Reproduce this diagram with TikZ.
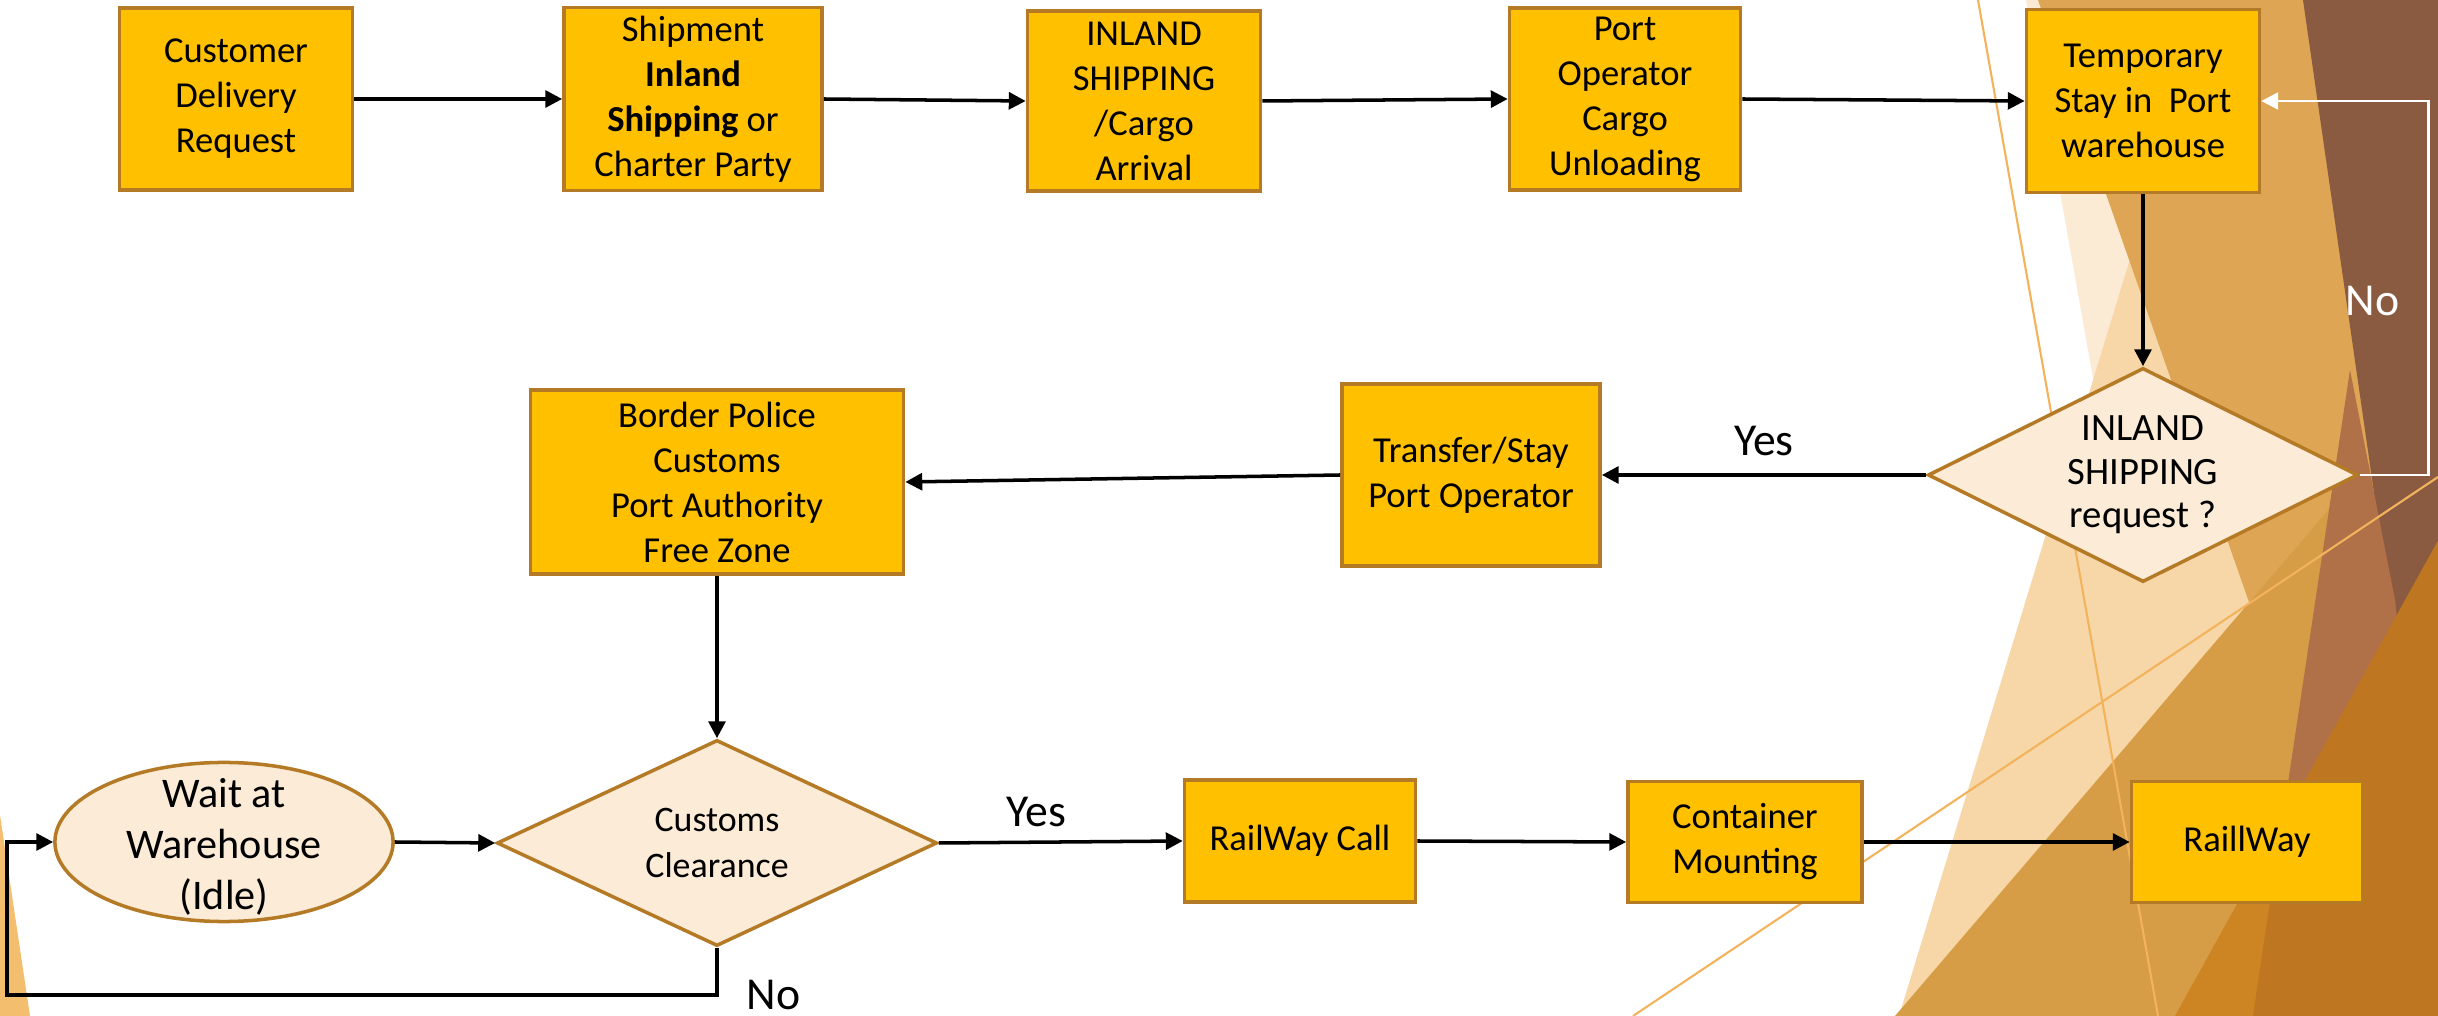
\documentclass[tikz,border=0pt]{standalone}
\usepackage{fontspec}
\setmainfont{Carlito}
\usepackage{tikz}
\usetikzlibrary{shapes}
\usetikzlibrary{shapes.geometric}
\usetikzlibrary{calc}
\usetikzlibrary{positioning, arrows.meta}

\definecolor{gold}{HTML}{FFC000}
\definecolor{rim}{HTML}{B47A26}
\definecolor{cream}{HTML}{FBEBD7}
\definecolor{palecream}{HTML}{FBEAD4}
\definecolor{peach}{HTML}{F7D7A8}
\definecolor{tan}{HTML}{DEA654}
\definecolor{darktan}{HTML}{D69D46}
\definecolor{facetbrown}{HTML}{8B5B41}
\definecolor{rust}{HTML}{B07048}
\definecolor{amber}{HTML}{CC8522}
\definecolor{darkamber}{HTML}{BE7620}
\definecolor{streak}{HTML}{F3B35C}
\definecolor{sliver}{HTML}{F3BE6E}

\begin{document}
\begin{tikzpicture}[x=0.01cm, y=-0.01cm,
    box/.style={rectangle, draw=rim, fill=gold, line width=1pt, inner sep=0pt, align=center, font=\fontsize{10.4}{12.8}\selectfont},
    decision/.style={diamond, aspect=2, draw=rim, fill=cream, line width=1pt, inner sep=0pt, align=center},
    idle/.style={ellipse, draw=rim, fill=cream, line width=1pt, inner sep=0pt},
    flow/.style={line width=1pt, -{Triangle[length=4.8pt, width=4.8pt]}},
    answer/.style={font=\fontsize{13}{15.6}\selectfont, inner sep=2pt}]

                    \useasboundingbox (0,0) rectangle (2438,1016);
                    \clip (0,0) rectangle (2438,1016);
                    \fill[white] (0,0) rectangle (2438,1016);

                    % Background shards
                    \fill[palecream] (2026,0) -- (2438,0) -- (2438,1016) -- (2206,1016) -- cycle;
                    \fill[peach] (1899,1016) -- (2209,0) -- (2438,0) -- (2438,1016) -- cycle;
                    \fill[tan] (2038,0) -- (2438,0) -- (2438,1016) -- (2394,1016) -- cycle;
                    \fill[darktan] (1895,1016) -- (2438,382) -- (2438,1016) -- cycle;
                    \fill[facetbrown] (2303,0) -- (2438,0) -- (2438,937) -- cycle;
                    \fill[rust] (2350,370) -- (2395,600) -- (2438,1016) -- (2253,1016) -- cycle;
                    \fill[amber] (2175,1016) -- (2438,541) -- (2438,1016) -- cycle;
                    \fill[darkamber] (2253,1016) -- (2282,822) -- (2438,541) -- (2438,1016) -- cycle;
                    \fill[sliver] (0,815) -- (30,1016) -- (0,1016) -- cycle;
                    \draw[streak, line width=0.6pt] (1978,0) -- (2158,1016);
                    \draw[streak, line width=0.6pt] (1633,1016) -- (2438,477);

                    % Nodes
                    \node[box, minimum width=2.33cm, minimum height=1.82cm] (cust) at (236,99) {Customer\\Delivery\\Request};
                    \node[box, minimum width=2.58cm, minimum height=1.83cm] (ship) at (693,99) {Shipment\\{\bfseries Inland}\\{\bfseries Shipping} or\\Charter Party};
                    \node[box, minimum width=2.33cm, minimum height=1.80cm] (arrive) at (1144,101) {INLAND\\SHIPPING\\/Cargo\\Arrival};
                    \node[box, minimum width=2.31cm, minimum height=1.82cm] (unload) at (1625,99) {Port\\Operator\\Cargo\\Unloading};
                    \node[box, minimum width=2.33cm, minimum height=1.83cm] (stay) at (2143,101) {Temporary\\Stay in\ \ Port\\warehouse};
                    \node[decision, minimum width=4.30cm, minimum height=2.14cm, font=\fontsize{11}{12.4}\selectfont] (inland) at (2143,475) {INLAND\\SHIPPING\\request ?};
                    \node[box, minimum width=2.58cm, minimum height=1.82cm] (transfer) at (1471,475) {Transfer/Stay\\Port Operator};
                    \node[box, minimum width=3.73cm, minimum height=1.84cm] (border) at (717,482) {Border Police\\Customs\\Port Authority\\Free Zone};
                    \node[decision, minimum width=4.40cm, minimum height=2.06cm, font=\fontsize{10.2}{12.8}\selectfont] (clear) at (717,843) {Customs\\Clearance};
                    \node[idle, minimum width=3.38cm, minimum height=1.59cm,
                          label={[name=waittext, align=center, yshift=-0.05cm, font=\fontsize{12}{14.5}\selectfont]center:{Wait at\\Warehouse\\(Idle)}}] (wait) at (224,842) {};
                    \node[box, minimum width=2.31cm, minimum height=1.22cm] (call) at (1300,841) {RailWay Call};
                    \node[box, minimum width=2.34cm, minimum height=1.21cm] (mount) at (1745,842) {Container\\Mounting};
                    \node[box, minimum width=2.31cm, minimum height=1.21cm] (rail) at (2247,842) {RaillWay};

                    \coordinate (loopx) at (7,995);

                    % Edges
                    % request to shipment
                    \draw[flow] (cust.east) -- (ship.west);
                    % shipment to arrival
                    \draw[flow] (ship.east) -- (arrive.west);
                    % arrival to unloading
                    \draw[flow] (arrive.east) -- (unload.west);
                    % unloading to warehouse
                    \draw[flow] (unload.east) -- (stay.west);
                    % warehouse to question
                    \draw[flow] (stay.south) -- (inland.north);
                    % question to transfer
                    \draw[flow] (inland.west) -- node [midway, above=3pt, answer] (yes1) {Yes} (transfer.east);
                    % question back to warehouse
                    \draw[flow, draw=white, line width=0.8pt] (inland.east) -- ++(69,0) |- node [pos=0.25, left=6pt, yshift=-0.13cm, answer, text=white] (no1) {No} (stay.east);
                    % transfer to authorities
                    \draw[flow] (transfer.west) -- (border.east);
                    % authorities to clearance
                    \draw[flow] (border.south) -- (clear.north);
                    % clearance to railway call
                    \draw[flow] (clear.east) -- node [pos=0.4, above=2pt, answer] (yes2) {Yes} (call.west);
                    % clearance back to waiting
                    \draw[flow] (clear.south) |- node [pos=0.5, right=6pt, answer] (no2) {No} (loopx) |- (wait.west);
                    % waiting to clearance
                    \draw[flow] (wait.east) -- (clear.west);
                    % call to mounting
                    \draw[flow] (call.east) -- (mount.west);
                    % mounting to railway
                    \draw[flow] (mount.east) -- (rail.west);

                \end{tikzpicture}
\end{document}
